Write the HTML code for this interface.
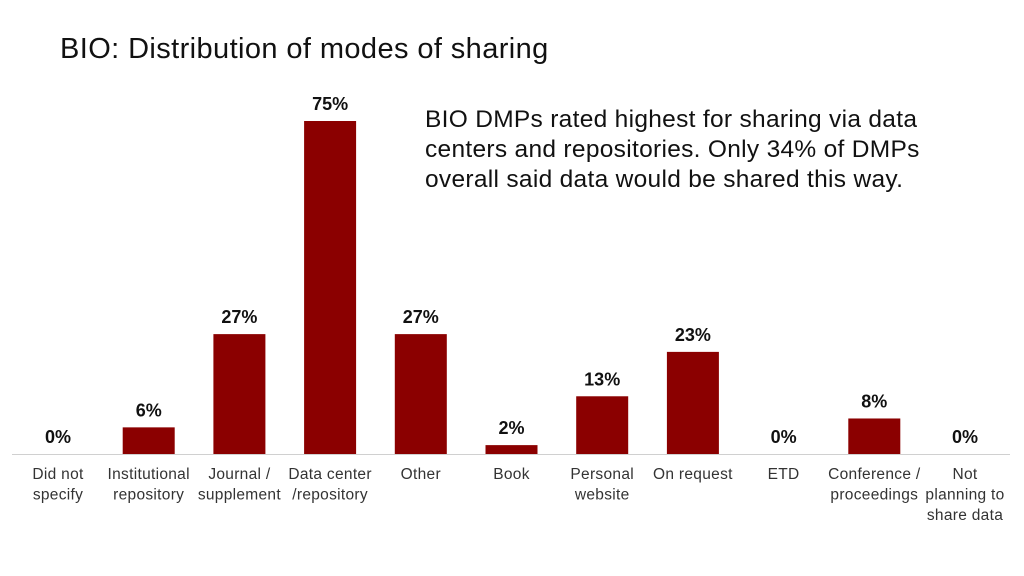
<!DOCTYPE html>
<html><head><meta charset="utf-8"><style>
html,body{margin:0;padding:0;background:#fff;}
body{width:1024px;height:576px;overflow:hidden;position:relative;font-family:"Liberation Sans",sans-serif;}
#title{position:absolute;left:60px;top:33px;font-size:29px;letter-spacing:0.4px;color:#111;}
#note{position:absolute;left:425px;top:105px;font-size:24.5px;letter-spacing:0.3px;line-height:30px;color:#111;white-space:nowrap;}
svg{position:absolute;left:0;top:0;}
</style></head><body>
<div id="title">BIO: Distribution of modes of sharing</div>
<div id="note">BIO DMPs rated highest for sharing via data<br>centers and repositories. Only 34% of DMPs<br>overall said data would be shared this way.</div>
<svg id="chart" width="1024" height="576"></svg>
<script>
const categories=[["Did not","specify"],["Institutional","repository"],["Journal /","supplement"],["Data center","/repository"],["Other"],["Book"],["Personal","website"],["On request"],["ETD"],["Conference /","proceedings"],["Not","planning to","share data"]];
const values=[0,6,27,75,27,2,13,23,0,8,0];
const valueLabels=["0%","6%","27%","75%","27%","2%","13%","23%","0%","8%","0%"];
const svg=document.getElementById('chart');
const NS='http://www.w3.org/2000/svg';
const x0=58,step=90.7,base=454,scale=333/75,bw=52;
function xPos(i){return x0+i*step;}
function yPos(v){return base-v*scale;}
const axis=document.createElementNS(NS,'line');
axis.setAttribute('x1',12);axis.setAttribute('x2',1010);axis.setAttribute('y1',base+0.5);axis.setAttribute('y2',base+0.5);
axis.setAttribute('stroke','#d0d0d0');axis.setAttribute('stroke-width','1');


svg.appendChild(axis);
values.forEach((v,i)=>{
  const cx=xPos(i);
  if(v>0){
    const r=document.createElementNS(NS,'rect');
    r.setAttribute('x',cx-bw/2);r.setAttribute('y',yPos(v));r.setAttribute('width',bw);r.setAttribute('height',base-yPos(v));
    r.setAttribute('fill','#8b0000');
    
    
    svg.appendChild(r);
  }
  const t=document.createElementNS(NS,'text');
  t.setAttribute('x',cx);t.setAttribute('y',yPos(v)-11);t.setAttribute('text-anchor','middle');
  t.setAttribute('font-size','18');t.setAttribute('font-weight','bold');t.setAttribute('fill','#111');
  t.setAttribute('font-family','Liberation Sans, sans-serif');
  t.textContent=valueLabels[i];
  
  
  svg.appendChild(t);
  categories[i].forEach((line,j)=>{
    const c=document.createElementNS(NS,'text');
    c.setAttribute('x',cx);c.setAttribute('y',479+j*20.5);c.setAttribute('text-anchor','middle');
    c.setAttribute('font-size','15.5');c.setAttribute('fill','#333');c.setAttribute('letter-spacing','0.3');
    c.setAttribute('font-family','Liberation Sans, sans-serif');
    c.textContent=line;
    
    
    svg.appendChild(c);
  });
});
</script>
</body></html>
